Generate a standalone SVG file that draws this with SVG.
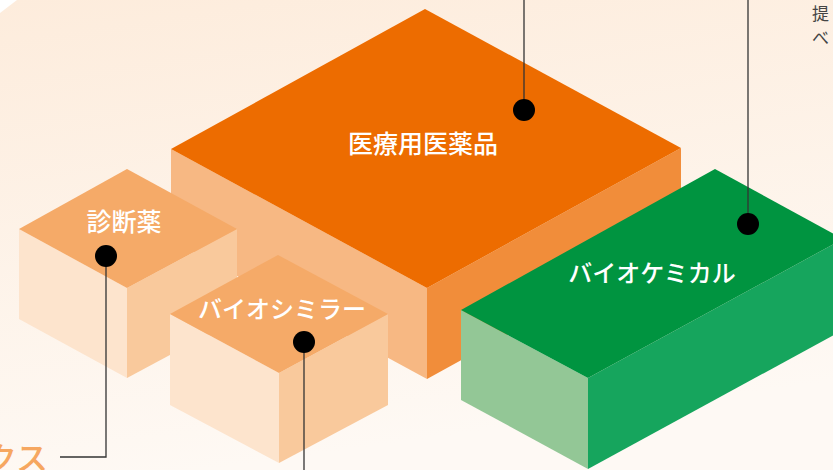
<svg xmlns="http://www.w3.org/2000/svg" width="833" height="470" viewBox="0 0 833 470">
<defs>
<linearGradient id="bg" x1="0" y1="0" x2="0.25" y2="1">
<stop offset="0" stop-color="#fdecdc"/>
<stop offset="1" stop-color="#fef9f4"/>
</linearGradient>
<style>
.lbl{font-family:"Noto Sans CJK JP","Noto Sans",sans-serif;font-size:24px;font-weight:500;fill:#ffffff;text-anchor:middle}
.ln{stroke:#333333;stroke-width:1.3;fill:none}
.dot{fill:#000000}
.o-top{fill:#ed6c00}.o-left{fill:#f7b883}.o-right{fill:#f18d3a}
.s-top{fill:#f5aa68}.s-left{fill:#fde4cd}.s-right{fill:#f9c99c}
.g-top{fill:#009440}.g-left{fill:#93c796}.g-right{fill:#16a55d}
.note{font-family:"Noto Sans CJK JP","Noto Sans",sans-serif;font-size:17px;fill:#444444}
</style>
</defs>
<rect width="833" height="470" fill="#ffffff"/>
<polygon points="17,0 833,0 833,470 0,470 0,13" fill="url(#bg)"/>
<text x="812" y="20" class="note">提</text>
<text x="812" y="44" class="note">べ</text>
<text x="48" y="470" style="font-family:'Noto Sans CJK JP','Noto Sans',sans-serif;font-size:32px;font-weight:500;fill:#f6a760;text-anchor:end">クス</text>
<g id="iryo">
<polygon class="o-left" points="171,149 427,288 427,379 171,240"/>
<polygon class="o-right" points="427,288 681,148 681,239 427,379"/>
<polygon class="o-top" points="425,9 681,148 427,288 171,149"/>
<text x="423" y="153" class="lbl" style="font-size:25px">医療用医薬品</text>
</g>
<g id="shindan">
<polygon class="s-left" points="19,229 127,288 127,378 19,319"/>
<polygon class="s-right" points="127,288 237,229 237,319 127,378"/>
<polygon class="s-top" points="127,169 237,229 127,288 19,229"/>
<text x="124" y="231" class="lbl" style="font-size:25px">診断薬</text>
</g>
<g id="biosimilar">
<polygon class="s-left" points="170,314 279,373 279,463 170,405"/>
<polygon class="s-right" points="279,373 388,314 388,405 279,463"/>
<polygon class="s-top" points="278,255 388,314 279,373 170,314"/>
<text x="282" y="318" class="lbl">バイオシミラー</text>
</g>
<g id="biochemical">
<polygon class="g-left" points="461,310 588,378 588,469 461,400"/>
<polygon class="g-right" points="588,378 843,239 843,330 588,469"/>
<polygon class="g-top" points="715,169 843,239 588,378 461,310"/>
<text x="652" y="282" class="lbl">バイオケミカル</text>
</g>
<g id="connectors">
<polyline class="ln" points="524,0 524,110"/>
<circle class="dot" cx="524" cy="110" r="11"/>
<polyline class="ln" points="748,0 748,224"/>
<circle class="dot" cx="748" cy="224" r="11"/>
<polyline class="ln" points="106,256 106,457 60,457"/>
<circle class="dot" cx="106" cy="256" r="11"/>
<polyline class="ln" points="304,342 304,470"/>
<circle class="dot" cx="304" cy="342" r="11"/>
</g>
</svg>
